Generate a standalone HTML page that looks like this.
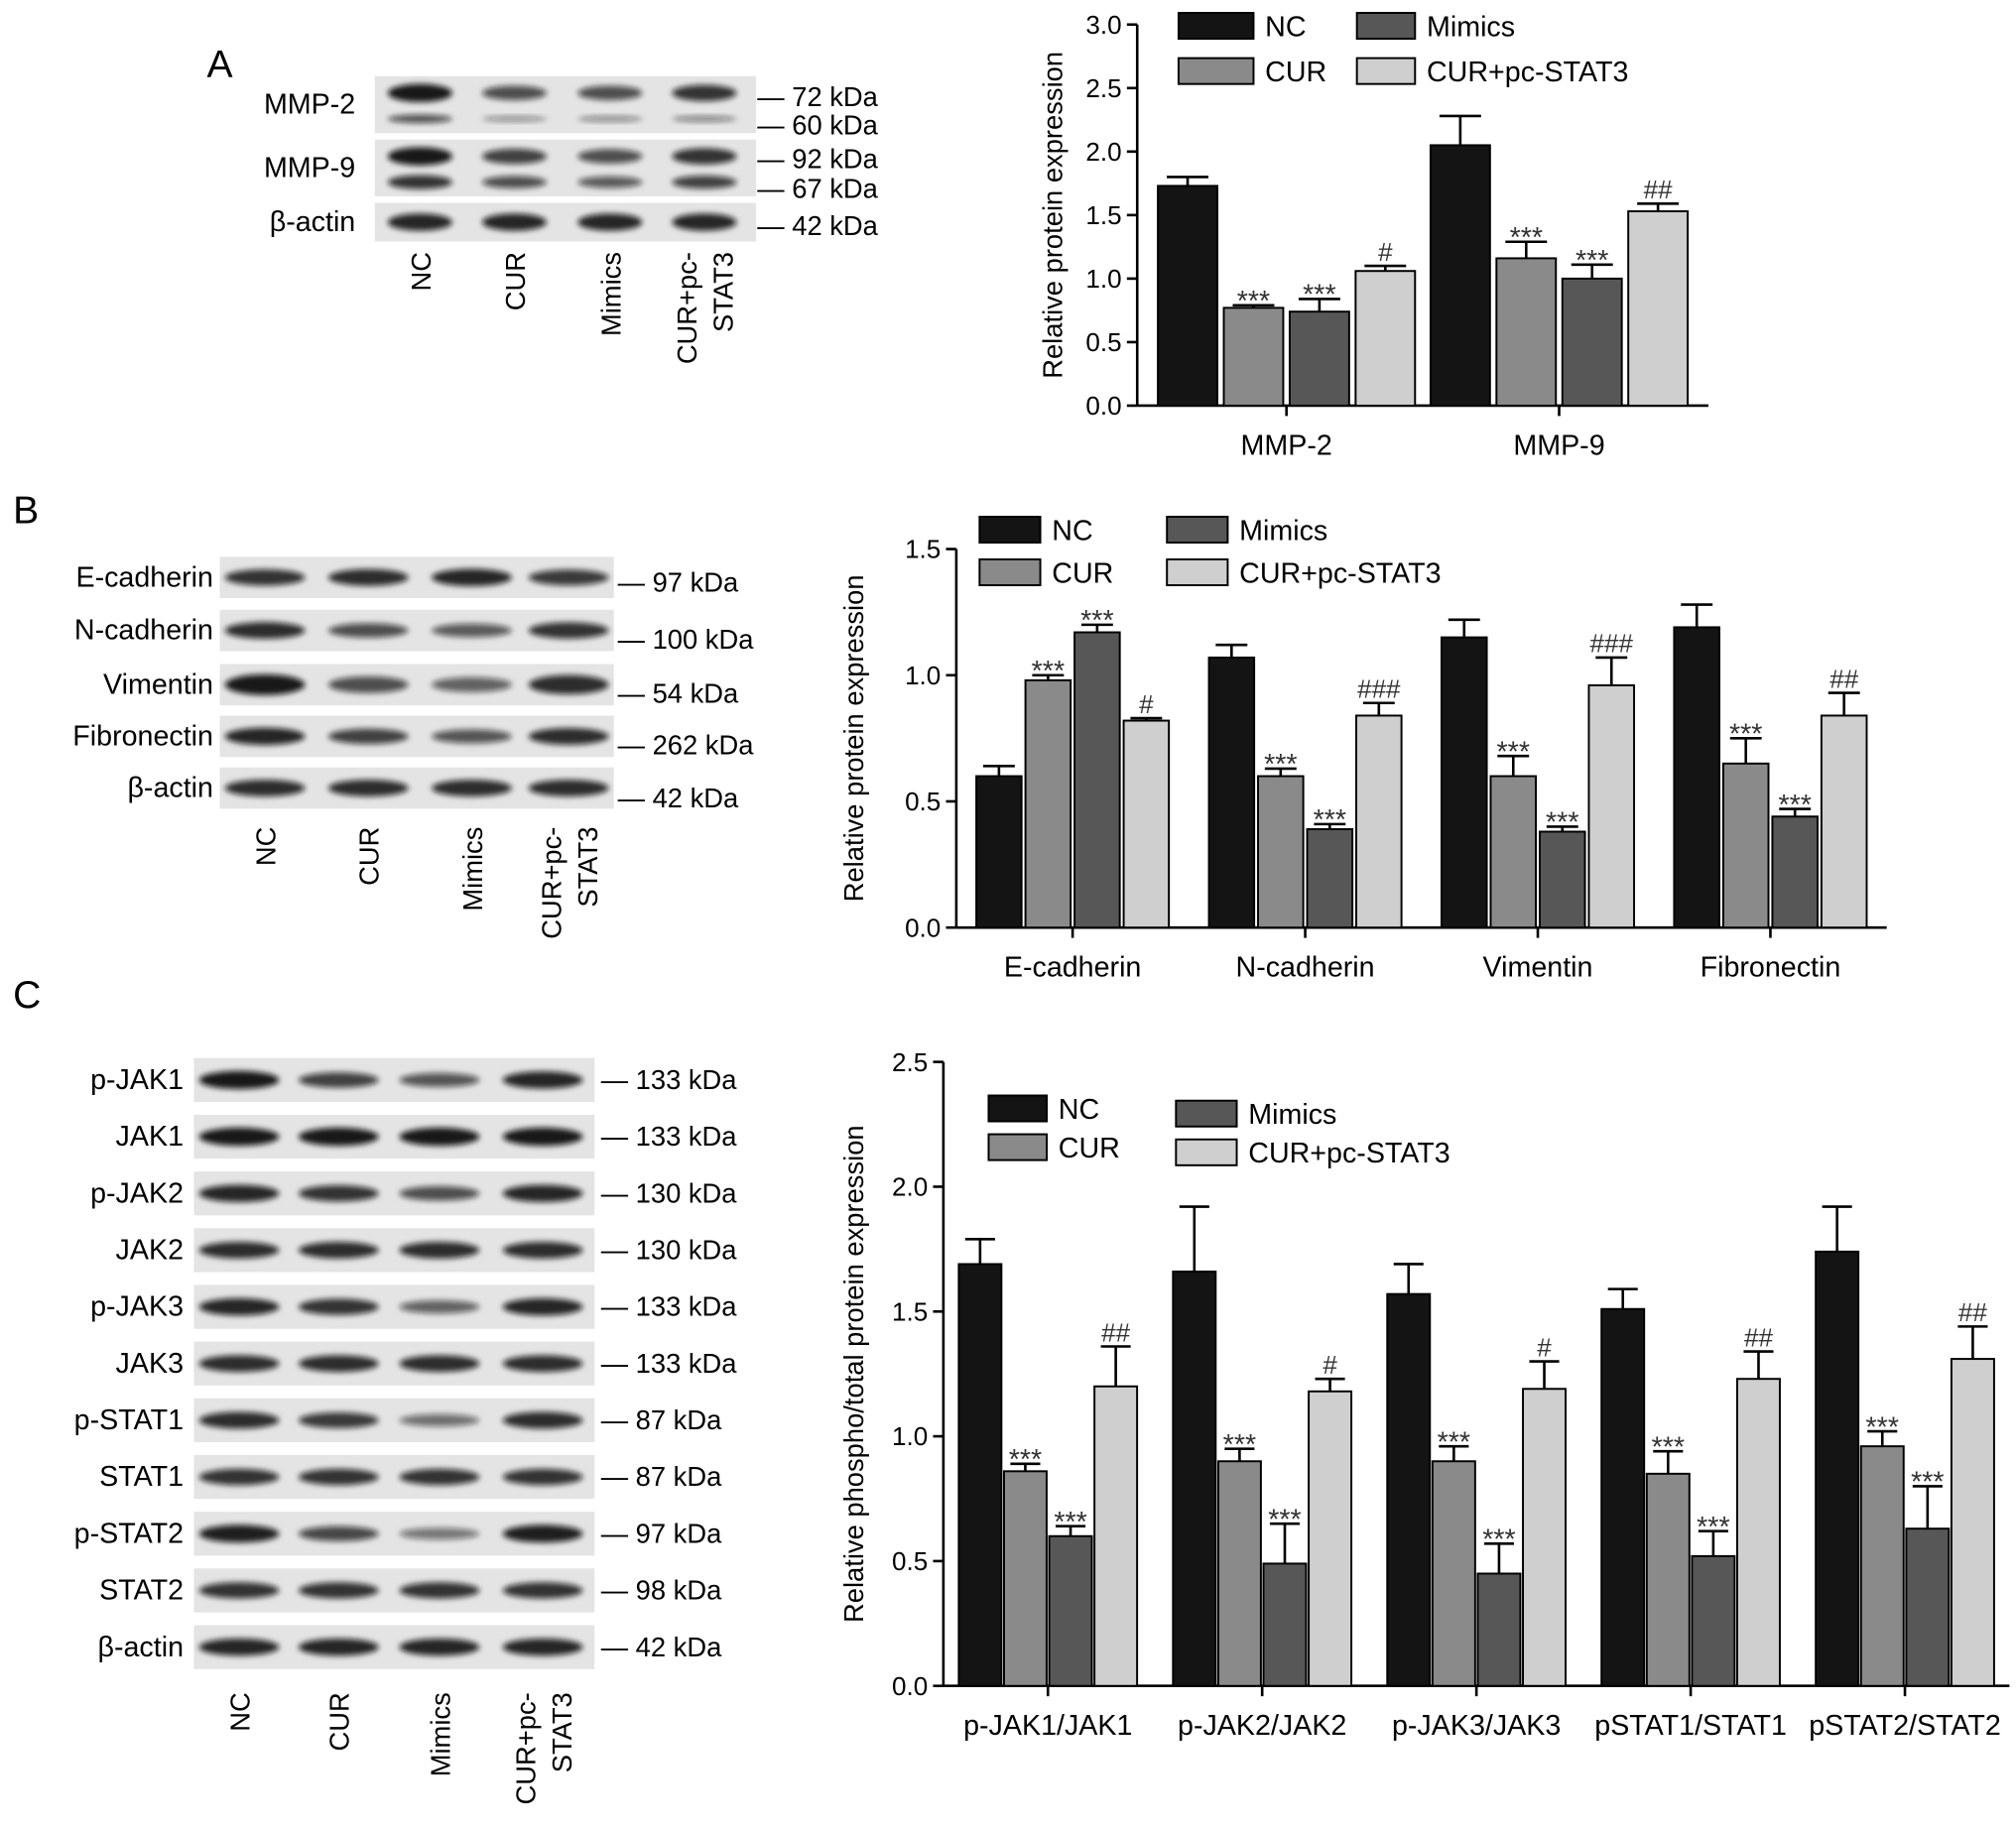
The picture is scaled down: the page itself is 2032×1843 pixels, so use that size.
<!DOCTYPE html>
<html><head><meta charset="utf-8">
<style>
html,body{margin:0;padding:0;background:#fff;}
svg{display:block;font-family:"Liberation Sans",Arial,sans-serif;}
</style></head>
<body>
<svg id="fig" width="2032" height="1843" viewBox="0 0 1560 1415" xmlns="http://www.w3.org/2000/svg">
<defs><filter id="blur" x="-20%" y="-50%" width="140%" height="200%"><feGaussianBlur stdDeviation="2.2"/></filter></defs>
<g id="root"></g>
</svg>
<script>
// ---------- Chart data ----------
const seriesNames = ["NC","CUR","Mimics","CUR+pc-STAT3"];
const categoriesA = ["MMP-2","MMP-9"];
const ncA = [1.73,2.05], curA = [0.77,1.16], mimA = [0.74,1.00], pcA = [1.06,1.53];
const ncAErr = [0.07,0.23], curAErr = [0.02,0.13], mimAErr = [0.10,0.11], pcAErr = [0.04,0.06];
const pcAMark = ["#","##"];
const ticksA = [0,0.5,1.0,1.5,2.0,2.5,3.0];

const categoriesB = ["E-cadherin","N-cadherin","Vimentin","Fibronectin"];
const ncB = [0.60,1.07,1.15,1.19], curB = [0.98,0.60,0.60,0.65], mimB = [1.17,0.39,0.38,0.44], pcB = [0.82,0.84,0.96,0.84];
const ncBErr = [0.04,0.05,0.07,0.09], curBErr = [0.02,0.03,0.08,0.10], mimBErr = [0.03,0.02,0.02,0.03], pcBErr = [0.01,0.05,0.11,0.09];
const pcBMark = ["#","###","###","##"];
const ticksB = [0,0.5,1.0,1.5];

const categoriesC = ["p-JAK1/JAK1","p-JAK2/JAK2","p-JAK3/JAK3","pSTAT1/STAT1","pSTAT2/STAT2"];
const ncC = [1.69,1.66,1.57,1.51,1.74], curC = [0.86,0.90,0.90,0.85,0.96], mimC = [0.60,0.49,0.45,0.52,0.63], pcC = [1.20,1.18,1.19,1.23,1.31];
const ncCErr = [0.10,0.26,0.12,0.08,0.18], curCErr = [0.03,0.05,0.06,0.09,0.06], mimCErr = [0.04,0.16,0.12,0.10,0.17], pcCErr = [0.16,0.05,0.11,0.11,0.13];
const pcCMark = ["##","#","#","##","##"];
const ticksC = [0,0.5,1.0,1.5,2.0,2.5];

const fills = ["#141414","#8a8a8a","#575757","#cfcfcf"];
const NS = "http://www.w3.org/2000/svg";
const root = document.getElementById('root');
function mk(tag, attrs, parent, text){
  const e = document.createElementNS(NS, tag);
  for (const k in attrs) e.setAttribute(k, attrs[k]);
  if (text !== undefined) e.textContent = text;
  (parent||root).appendChild(e); return e;
}

function chart(cfg){
  const g = mk('g', {});
  
  
  const y = v => cfg.y0 - (v - 0) / cfg.ymax * (cfg.y0 - cfg.ytop);
  const x0 = cfg.x0, x1 = cfg.x1;
  const gw = (x1 - x0 - cfg.pad*2) / cfg.cats.length;
  const bw = cfg.bw, gap = cfg.gap;
  const ax = mk('line', {x1:x0,y1:cfg.ytop,x2:x0,y2:cfg.y0,stroke:'#000','stroke-width':2}, g);
   
  const xa = mk('line', {x1:x0,y1:cfg.y0,x2:x1,y2:cfg.y0,stroke:'#000','stroke-width':2}, g);
   
  cfg.ticks.forEach(t=>{
    mk('line',{x1:x0-8,y1:y(t),x2:x0,y2:y(t),stroke:'#000','stroke-width':2},g);
    const tl = mk('text',{x:x0-12,y:y(t)+7,'text-anchor':'end','font-size':20},g,t.toFixed(1));
     
  });
  const yt = mk('text',{x:0,y:0,transform:`translate(${cfg.ytx},${(cfg.ytop+cfg.y0)/2}) rotate(-90)`,'text-anchor':'middle','font-size':21},g,cfg.ytitle);
   
  const series = [cfg.nc,cfg.cur,cfg.mim,cfg.pc];
  const errs = [cfg.ncE,cfg.curE,cfg.mimE,cfg.pcE];
  cfg.cats.forEach((c,i)=>{
    const gx = x0 + cfg.pad + gw*i;
    const cx = gx + gw/2;
    const total = bw*4 + gap*3;
    mk('line',{x1:cx,y1:cfg.y0,x2:cx,y2:cfg.y0+8,stroke:'#000','stroke-width':2},g);
    const cl = mk('text',{x:cx,y:cfg.y0+38,'text-anchor':'middle','font-size':22},g,c);
     
    series.forEach((s,k)=>{
      const bx = cx - total/2 + k*(bw+gap);
      const top = y(s[i]);
      const e = errs[k][i];
      const mcx = bx + bw/2;
      mk('line',{x1:mcx,y1:top,x2:mcx,y2:y(s[i]+e),stroke:'#000','stroke-width':2},g);
      mk('line',{x1:mcx-bw*0.35,y1:y(s[i]+e),x2:mcx+bw*0.35,y2:y(s[i]+e),stroke:'#000','stroke-width':2},g);
      const r = mk('rect',{x:bx,y:top,width:bw,height:cfg.y0-top,fill:fills[k],stroke:'#000','stroke-width':1.5},g);
      
      
      let mark = null;
      if (k===1 || k===2) mark = '***';
      if (k===3) mark = cfg.pcMark[i];
      if (mark){
        const m = mk('text',{x:mcx,y:y(s[i]+e)-4+(mark==='***'?8:0),'text-anchor':'middle','font-size':mark==='***'?22:20,fill:'#333'},g,mark);
         
      }
    });
  });
  const L = cfg.legend;
  L.forEach((p,k)=>{
    const r = mk('rect',{x:p[0],y:p[1],width:p[2],height:20,fill:fills[k],stroke:'#000','stroke-width':1.5},g);
     
    const t = mk('text',{x:p[0]+p[2]+9,y:p[1]+18,'font-size':22},g,seriesNames[k]);
     
  });
}

chart({name:'chart-a',cats:categoriesA,nc:ncA,cur:curA,mim:mimA,pc:pcA,ncE:ncAErr,curE:curAErr,mimE:mimAErr,pcE:pcAErr,pcMark:pcAMark,
  ticks:ticksA,ymax:3,y0:314,ytop:19,x0:880,x1:1322,pad:10,bw:46,gap:5,ytx:822,ytitle:'Relative protein expression',
  legend:[[912,10,58],[912,45,58],[1050,10,45],[1050,45,45]]});
chart({name:'chart-b',cats:categoriesB,nc:ncB,cur:curB,mim:mimB,pc:pcB,ncE:ncBErr,curE:curBErr,mimE:mimBErr,pcE:pcBErr,pcMark:pcBMark,
  ticks:ticksB,ymax:1.5,y0:718,ytop:425,x0:740,x1:1460,pad:0,bw:35,gap:3,ytx:668,ytitle:'Relative protein expression',
  legend:[[758,400,47],[758,433,47],[903,400,47],[903,433,47]]});
chart({name:'chart-c',cats:categoriesC,nc:ncC,cur:curC,mim:mimC,pc:pcC,ncE:ncCErr,curE:curCErr,mimE:mimCErr,pcE:pcCErr,pcMark:pcCMark,
  ticks:ticksC,ymax:2.5,y0:1305,ytop:822,x0:730,x1:1555,pad:-2,bw:33,gap:2,ytx:668,ytitle:'Relative phospho/total protein expression',
  legend:[[765,848,45],[765,878,45],[910,852,47],[910,882,47]]});

function blot(cfg){
  const g = mk('g',{});
  
  
  const p = mk('text',{x:cfg.letter[0],y:cfg.letter[1],'font-size':30},g,cfg.letter[2]);
   
  cfg.rows.forEach(r=>{
    mk('rect',{x:cfg.bx0,y:r.cy-r.h/2,width:cfg.bx1-cfg.bx0,height:r.h,fill:'#e4e4e4'},g);
    r.bands.forEach(bd=>{
      cfg.lanes.forEach((lx,li)=>{
        const a = bd.s[li];
        mk('ellipse',{cx:lx,cy:bd.dy!==undefined?r.cy+bd.dy:r.cy,rx:cfg.bw/2,ry:bd.ry*(0.5+0.5*a),fill:'#111','fill-opacity':0.35+0.6*a,filter:'url(#blur)'},g);
      });
    });
    if (r.label){
      const t = mk('text',{x:cfg.lx,y:r.ly||r.cy+7,'text-anchor':'end','font-size':22},g,r.label);
       
    }
  });
  cfg.kda.forEach(k=>{
    const t = mk('text',{x:cfg.kx,y:k[1],'font-size':21},g,'— '+k[0]);
     
  });
  const lab = [["NC"],["CUR"],["Mimics"],["CUR+pc-","STAT3"]];
  lab.forEach((l,i)=>{
    l.forEach((s,j)=>{
      const x = cfg.lanes[i] + 8 + (l.length>1 ? (j===0?-14:14) : 0);
      const t = mk('text',{x:0,y:0,transform:`translate(${x},${cfg.ly}) rotate(-90)`,'text-anchor':'end','font-size':21},g,s);
       
    });
  });
}
const full=[1,1,1,1];
blot({name:'blot-a',letter:[160,60,'A'],bx0:290,bx1:585,bw:50,lanes:[325,398,472,545],lx:275,kx:586,ly:195,
  rows:[{cy:81,h:44,label:'MMP-2',ly:88,bands:[{dy:-9,ry:7,s:[1,0.6,0.6,0.8]},{dy:11,ry:4,s:[0.6,0.1,0.15,0.2]}]},
        {cy:130,h:44,label:'MMP-9',ly:137,bands:[{dy:-9,ry:7,s:[1,0.7,0.6,0.8]},{dy:11,ry:6,s:[0.8,0.6,0.5,0.7]}]},
        {cy:172,h:30,label:'β-actin',bands:[{ry:7,s:[0.9,0.9,0.9,0.9]}]}],
  kda:[['72 kDa',82],['60 kDa',104],['92 kDa',130],['67 kDa',153],['42 kDa',182]]});
blot({name:'blot-b',letter:[10,405,'B'],bx0:170,bx1:475,bw:62,lanes:[205,285,365,440],lx:165,kx:478,ly:640,
  rows:[{cy:447,h:32,label:'E-cadherin',bands:[{ry:7,s:[0.8,0.85,0.9,0.75]}]},
        {cy:488,h:32,label:'N-cadherin',bands:[{ry:7,s:[0.85,0.6,0.5,0.8]}]},
        {cy:530,h:32,label:'Vimentin',bands:[{ry:8,s:[1,0.6,0.45,0.85]}]},
        {cy:570,h:32,label:'Fibronectin',bands:[{ry:7,s:[0.9,0.7,0.55,0.85]}]},
        {cy:610,h:32,label:'β-actin',bands:[{ry:7,s:[0.85,0.85,0.85,0.85]}]}],
  kda:[['97 kDa',458],['100 kDa',502],['54 kDa',544],['262 kDa',584],['42 kDa',625]]});
const rowsC = [['p-JAK1',[1,0.7,0.55,0.9],'133 kDa'],['JAK1',full,'133 kDa'],['p-JAK2',[0.9,0.8,0.6,0.9],'130 kDa'],['JAK2',[0.85,0.85,0.85,0.85],'130 kDa'],
  ['p-JAK3',[0.9,0.8,0.45,0.9],'133 kDa'],['JAK3',[0.85,0.85,0.85,0.85],'133 kDa'],['p-STAT1',[0.85,0.75,0.35,0.85],'87 kDa'],['STAT1',[0.8,0.8,0.8,0.8],'87 kDa'],
  ['p-STAT2',[0.95,0.65,0.3,0.95],'97 kDa'],['STAT2',[0.8,0.8,0.8,0.8],'98 kDa'],['β-actin',[0.9,0.9,0.9,0.9],'42 kDa']];
blot({name:'blot-c',letter:[10,780,'C'],bx0:150,bx1:460,bw:62,lanes:[185,262,340,420],lx:142,kx:465,ly:1310,
  rows:rowsC.map((r,i)=>({cy:836+i*43.9,h:34,label:r[0],bands:[{ry:7,s:r[1]}]})),
  kda:rowsC.map((r,i)=>[r[2],836+i*43.9+7])});
</script>
</body></html>
